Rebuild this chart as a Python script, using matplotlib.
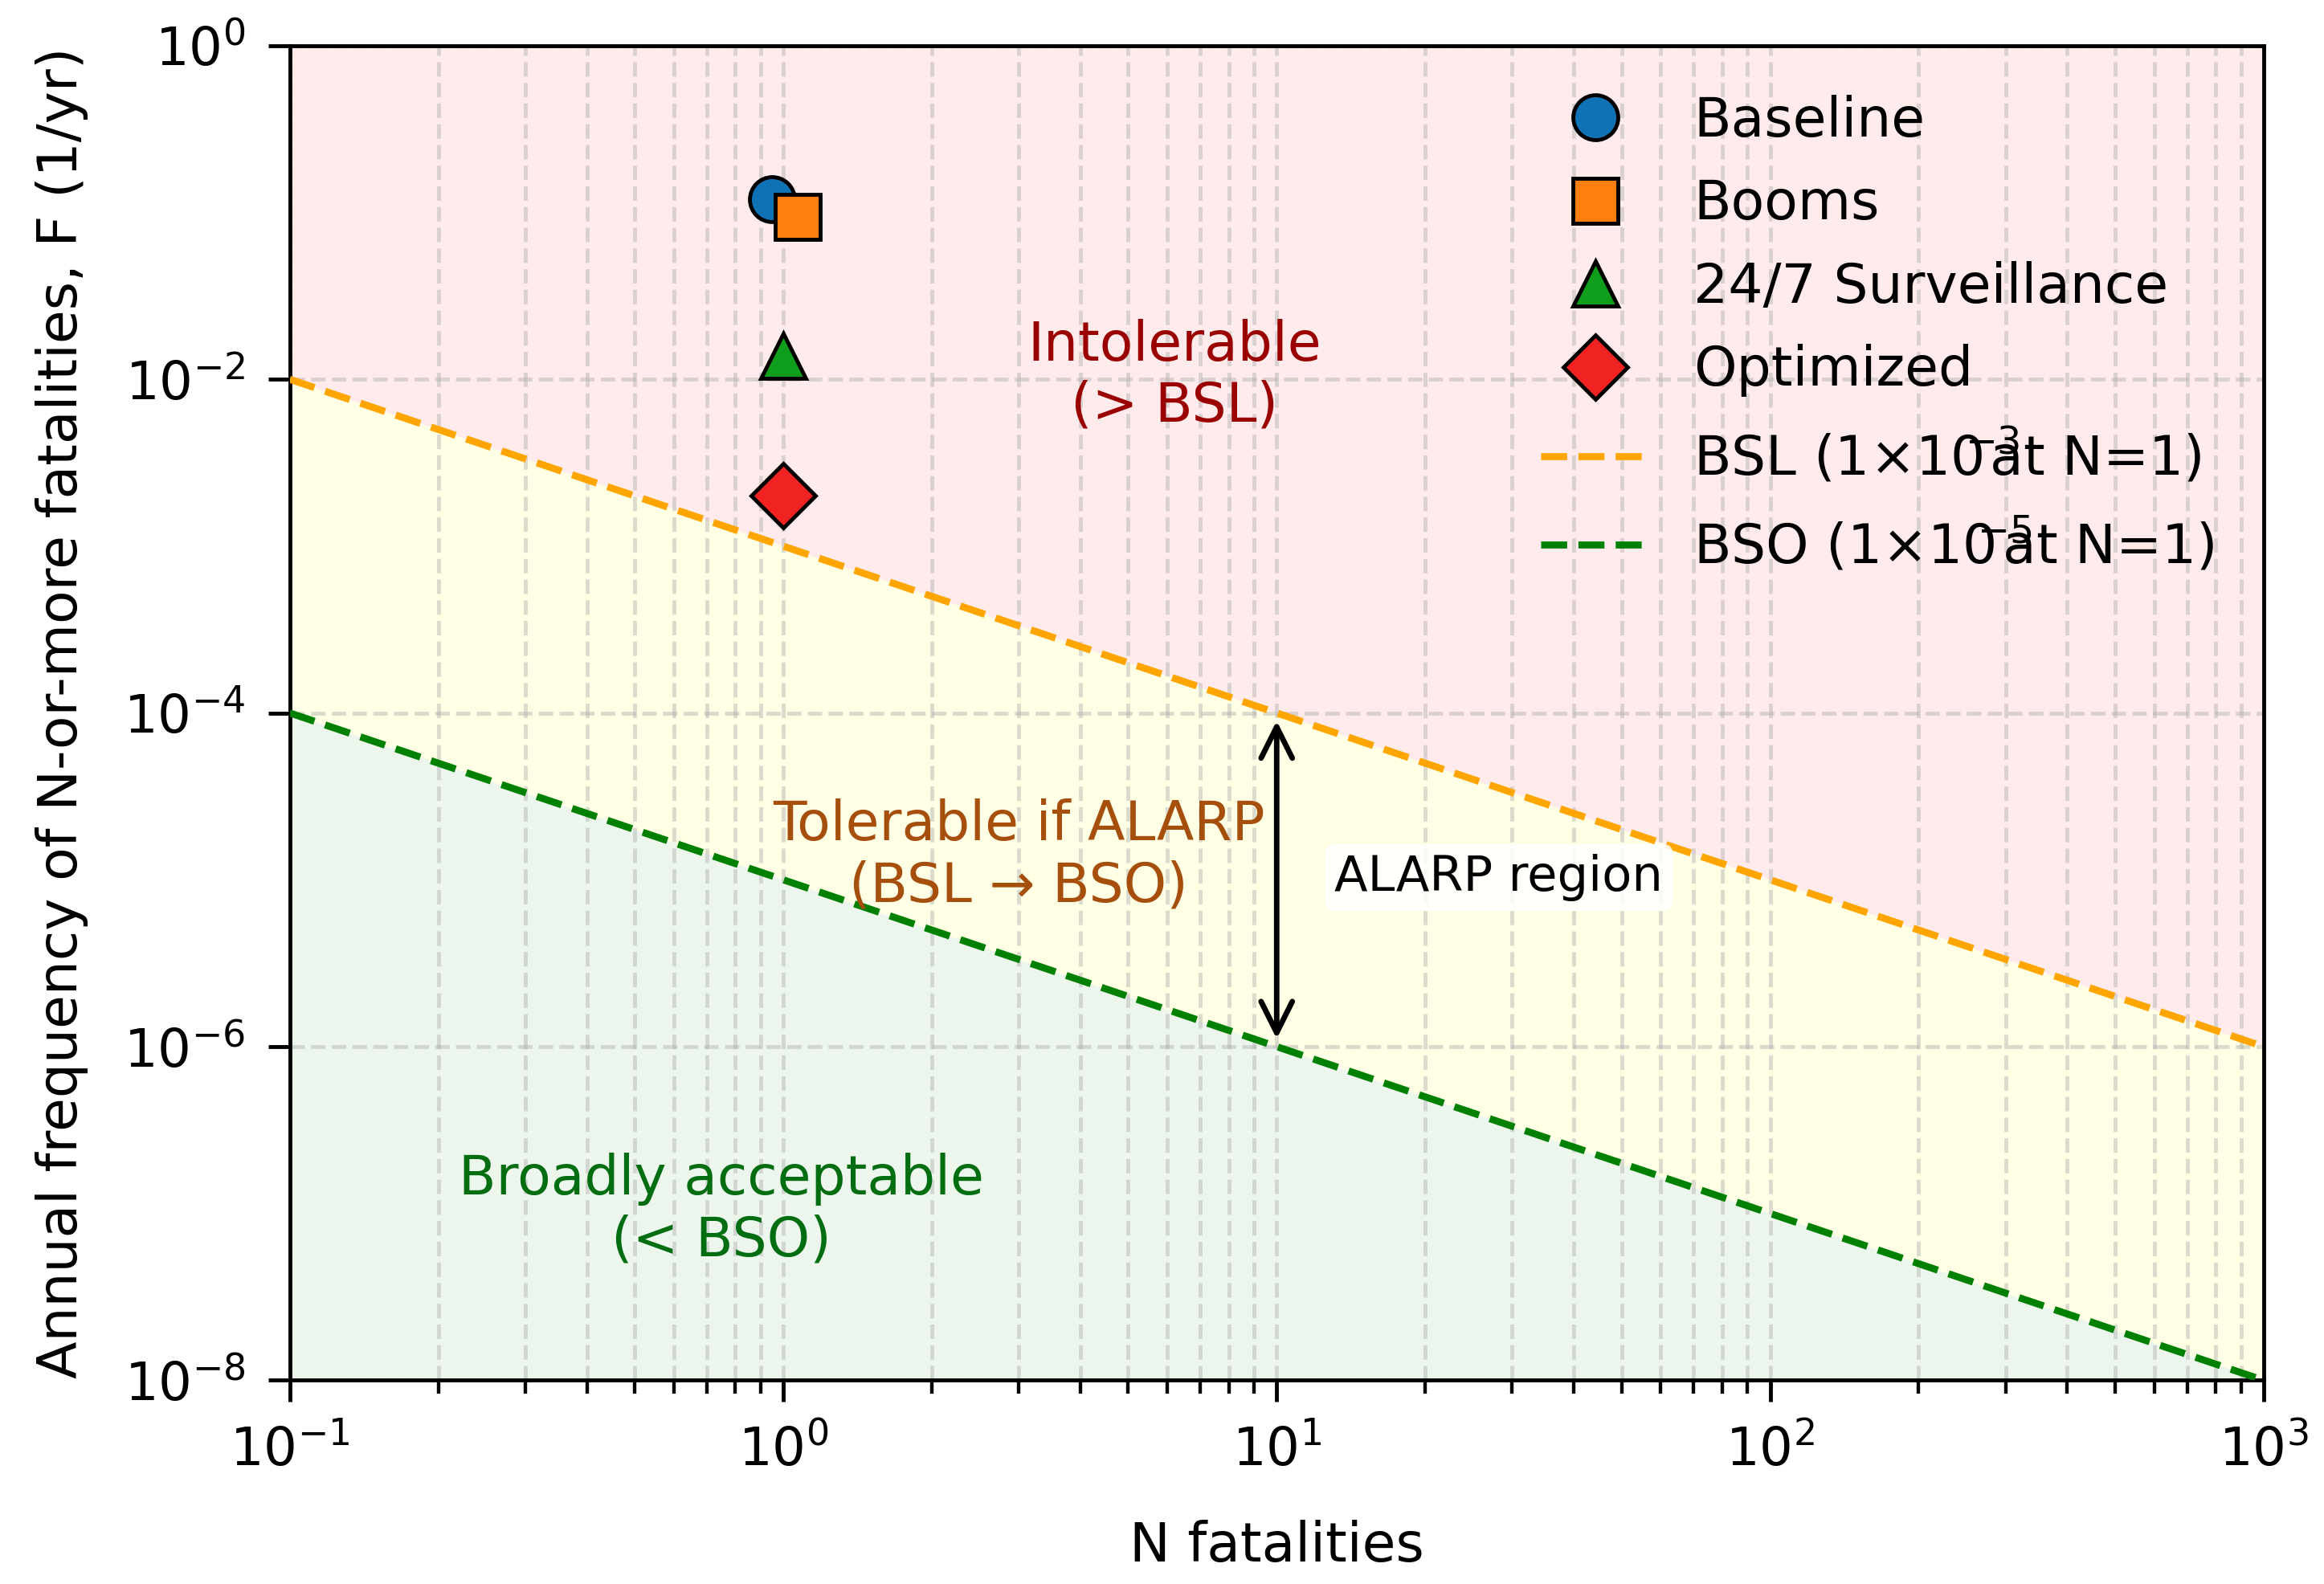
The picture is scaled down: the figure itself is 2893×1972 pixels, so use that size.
import matplotlib
matplotlib.use("Agg")
import matplotlib.pyplot as plt
from matplotlib.ticker import NullLocator, LogLocator

# ---- data ----
scenarios = ["Baseline", "Booms", "24/7 Surveillance", "Optimized"]
scenario_N = [0.95, 1.07, 1.0, 1.0]
scenario_F = [0.12, 0.094, 0.0138, 0.002]
scenario_markers = ["o", "s", "^", "D"]
scenario_colors = ["#0f72b4", "#ff7f0e", "#0e9e1c", "#f02222"]

crit_N = [0.1, 1000.0]
bsl_F = [1e-2, 1e-6]      # 1e-3 at N=1
bso_F = [1e-4, 1e-8]      # 1e-5 at N=1
bsl_label = "BSL (1×10$\\hspace{-0.38}^{-3}\\hspace{-0.95}$ at N=1)"
bso_label = "BSO (1×10$\\hspace{-0.38}^{-5}\\hspace{-0.95}$ at N=1)"

y_ticks = [1e0, 1e-2, 1e-4, 1e-6, 1e-8]
x_lim = (0.1, 1000.0)
y_lim = (1e-8, 1.0)

DPI = 350
fig = plt.figure(figsize=(2893 / DPI, 1972 / DPI), dpi=DPI)
ax = fig.add_axes([0.1247, 0.1286, 0.974 - 0.1247, 0.9712 - 0.1286])
ax.set_xscale("log")
ax.set_yscale("log")

# zones
ax.fill_between(crit_N, bsl_F, [y_lim[1]] * 2, color="red", alpha=0.08, lw=0)
ax.fill_between(crit_N, bso_F, bsl_F, color="yellow", alpha=0.1, lw=0)
ax.fill_between(crit_N, [y_lim[0]] * 2, bso_F, color="green", alpha=0.07, lw=0)

# criterion lines
ax.plot(crit_N, bsl_F, ls="--", color="orange", lw=1.8, label=bsl_label, zorder=3)
ax.plot(crit_N, bso_F, ls="--", color="green", lw=1.8, label=bso_label, zorder=3)

# scenario points
for name, n, f, m, c in zip(scenarios, scenario_N, scenario_F, scenario_markers, scenario_colors):
    ax.plot([n], [f], ls="none", marker=m, ms=11.5, mfc=c, mec="black",
            mew=1.0, label=name, zorder=5)

line_handles, line_labels = ax.get_legend_handles_labels()
order = scenarios + [bsl_label, bso_label]
hmap = dict(zip(line_labels, line_handles))
ax.legend([hmap[k] for k in order], order, loc="upper right", frameon=False,
          fontsize=14, labelspacing=0.55)

# region labels
ax.text(6.2, 1.05e-2, "Intolerable\n(> BSL)", color="#9a0000", fontsize=14,
        ha="center", va="center")
ax.text(3.0, 1.4e-5, "Tolerable if ALARP\n(BSL → BSO)", color="#a64f0c", fontsize=14,
        ha="center", va="center")
ax.text(0.75, 1.05e-7, "Broadly acceptable\n(< BSO)", color="#006d10", fontsize=14,
        ha="center", va="center")

ax.annotate("", xy=(10, 1e-6), xytext=(10, 1e-4),
            arrowprops=dict(arrowstyle="<->", lw=1.4, color="black",
                            mutation_scale=20))
ax.text(13.1, 1.03e-5, "ALARP region", fontsize=12.5, ha="left", va="center",
        bbox=dict(boxstyle="round,pad=0.2", fc="white", ec="none", alpha=0.85))

ax.set_xlim(*x_lim)
ax.set_ylim(*y_lim)
ax.set_yticks(y_ticks)
ax.yaxis.set_minor_locator(NullLocator())
ax.xaxis.set_major_locator(LogLocator(base=10, numticks=10))
ax.xaxis.set_minor_locator(LogLocator(base=10, subs=range(2, 10), numticks=20))

ax.grid(True, which="major", axis="both", ls="--", lw=1.0, alpha=0.45)
ax.grid(True, which="minor", axis="x", ls="--", lw=1.0, alpha=0.45)

for s in ax.spines.values():
    s.set_linewidth(1.0)
ax.tick_params(axis="both", which="major", labelsize=13.5, length=5.6, width=1.0, pad=5.8)
ax.tick_params(axis="both", which="minor", length=3.5, width=0.9)
ax.set_xlabel("N fatalities", fontsize=14, labelpad=11)
ax.set_ylabel("Annual frequency of N-or-more fatalities, F (1/yr)", fontsize=14, labelpad=9)

fig.savefig("out.png", dpi=DPI)
